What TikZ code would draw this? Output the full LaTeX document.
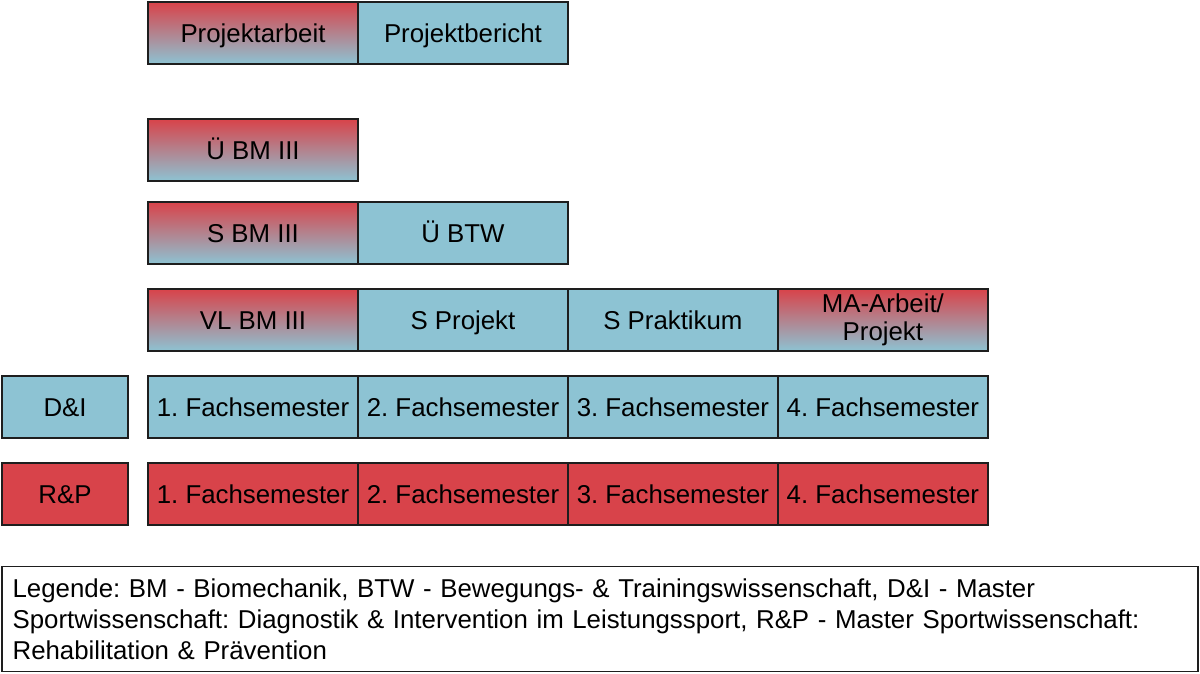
\documentclass[tikz,border=0pt]{standalone}
\usepackage{fontspec}
\setmainfont{Liberation Sans}
\usetikzlibrary{positioning}
\definecolor{diblue}{HTML}{8DC3D3}
\definecolor{rpred}{HTML}{D8434A}
\definecolor{boxline}{HTML}{1E1E1E}
\newcommand{\boxfont}{\fontsize{14.7}{16}\selectfont}
\frenchspacing

\begin{document}
\begin{tikzpicture}[x=0.02cm, y=-0.02cm, node distance=0.5cm and 0cm,
  box/.style={draw=boxline, line width=1pt, outer sep=0pt, minimum width=4.2cm,
              minimum height=1.24cm, text height=12pt, text depth=1pt,
              align=center, font=\boxfont},
  blue box/.style={box, fill=diblue},
  red box/.style={box, fill=rpred},
  mixed box/.style={box, top color=rpred, bottom color=diblue},
  legend/.style={draw=boxline, line width=1pt, minimum width=23.92cm, minimum height=2.1cm,
                 text width=23.5cm, align=left, font=\fontsize{14.7}{17.6}\selectfont}]
  \useasboundingbox (0,0) rectangle (1200,673);

  % R&P semesters
  \node[red box] (rp1) at (253,494) {1. Fachsemester};
  \node[red box, right=of rp1] (rp2) {2. Fachsemester};
  \node[red box, right=of rp2] (rp3) {3. Fachsemester};
  \node[red box, right=of rp3] (rp4) {4. Fachsemester};
  \node[red box, minimum width=2.52cm, left=0.4cm of rp1] (rp) {R\&P};

  % D&I semesters
  \node[blue box, above=of rp1] (di1) {1. Fachsemester};
  \node[blue box, right=of di1] (di2) {2. Fachsemester};
  \node[blue box, right=of di2] (di3) {3. Fachsemester};
  \node[blue box, right=of di3] (di4) {4. Fachsemester};
  \node[blue box, minimum width=2.52cm, left=0.4cm of di1] (di) {D\&I};

  % modules
  \node[mixed box, above=of di1] (vlbm) {VL BM III};
  \node[blue box, right=of vlbm] (sprojekt) {S Projekt};
  \node[blue box, right=of sprojekt] (spraktikum) {S Praktikum};
  \node[mixed box, right=of spraktikum, text height=, text depth=, inner sep=1pt]
    (maarbeit) {MA-Arbeit/\\Projekt};

  \node[mixed box, above=of vlbm] (sbm) {S BM III};
  \node[blue box, right=of sbm] (ubtw) {Ü BTW};

  \node[mixed box, above=0.42cm of sbm] (ubm) {Ü BM III};

  \node[blue box, above=1.1cm of ubm, xshift=4.2cm] (bericht) {Projektbericht};
  \node[mixed box, left=of bericht] (arbeit) {Projektarbeit};

  \node[legend] (legende) at (600,619)
    {Legende: BM - Biomechanik, BTW - Bewegungs- \& Trainingswissenschaft, D\&I - Master\\
     Sportwissenschaft: Diagnostik \& Intervention im Leistungssport, R\&P - Master Sportwissenschaft:\\
     Rehabilitation \& Prävention};
\end{tikzpicture}
\end{document}
